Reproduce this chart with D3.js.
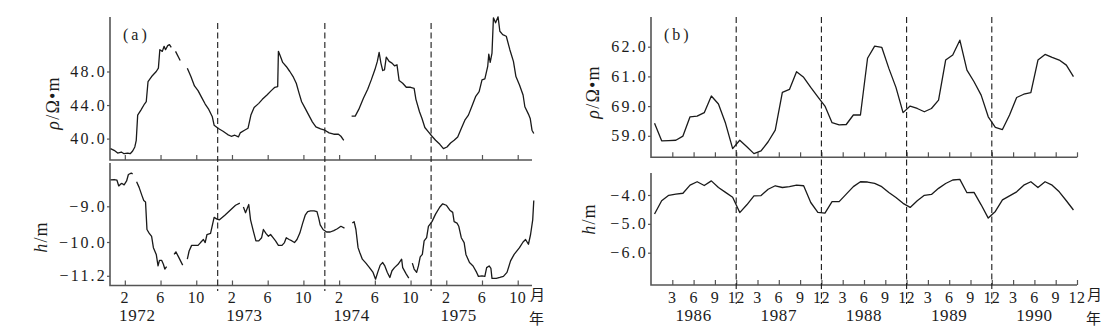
<!DOCTYPE html>
<html><head><meta charset="utf-8">
<script src="https://cdn.jsdelivr.net/npm/d3@7"></script>
<style>
body{margin:0;background:#fff;}
svg text{font-family:"Liberation Serif","Times New Roman",serif;fill:#1c1c1c;}
.cjk{font-family:"Noto Sans CJK SC",sans-serif;}
</style></head><body>
<svg id="chart" width="1119" height="336"></svg>
<script>
// ---------- panel (a): 1972-1975, time in months from Jan 1972 ----------
const yearsA = [1972, 1973, 1974, 1975];
const monthTicksA = [2, 6, 10];
const yearBreaksA = [12.4, 24.4, 36.3];

// resistivity rho (Ω·m), broken segments [month, value]
const rhoA = [
  [[0.4,38.8],[0.8,38.6],[1.2,38.28],[1.6,38.4],[1.92,38.2],[2.32,38.28],[2.6,38.2],[2.88,38.52],[3.12,39.0],[3.28,39.8],[3.44,42.8],[3.8,43.4],[4.2,44.12],[4.4,44.4],[4.6,46.8],[5.0,47.4],[5.52,48.0],[5.76,48.4],[5.92,50.6],[6.2,50.4],[6.4,51.0],[6.56,50.6],[6.8,51.08],[7.0,51.2],[7.2,50.88]],
  [[7.68,50.4],[8.2,49.32]],
  [[9.0,48.4],[9.4,47.4],[9.8,46.28],[10.2,45.72],[10.6,44.92],[11.0,44.12],[11.4,43.48],[11.8,42.6],[12.0,41.6],[12.48,41.2],[13.0,40.88],[13.52,40.48],[13.92,40.28],[14.32,40.4],[14.72,40.2],[14.92,40.68],[15.4,41.0],[15.8,41.24],[16.12,42.8],[16.48,43.72],[17.0,44.2],[17.4,44.68],[17.92,45.2],[18.4,45.72],[18.8,46.12],[19.12,46.2],[19.2,50.4],[19.4,49.88],[19.68,49.08],[20.08,48.6],[20.48,48.0],[20.88,47.32],[21.2,46.6],[21.52,45.4],[21.8,44.4],[22.2,43.6],[22.6,42.8],[23.0,42.0],[23.4,41.4],[23.92,41.16],[24.4,41.0],[24.88,40.68],[25.4,40.52],[25.92,40.52],[26.2,40.28],[26.52,39.8]],
  [[27.4,42.68],[27.8,42.68],[28.2,43.48],[28.72,44.8],[29.2,45.88],[29.6,47.0],[30.0,48.2],[30.28,49.2],[30.48,50.28],[30.68,49.0],[30.88,48.12],[31.08,48.2],[31.28,49.72],[31.6,49.2],[31.92,49.0],[32.2,48.68],[32.48,48.8],[32.72,46.92],[33.12,46.6],[33.52,46.12],[34.0,46.12],[34.4,46.0],[34.6,44.68],[35.0,43.2],[35.28,42.4],[35.6,41.32],[36.0,40.8],[36.4,40.28],[36.8,39.8],[37.28,39.32],[37.68,38.8],[38.08,39.0],[38.48,39.48],[38.88,39.8],[39.28,40.2],[39.68,41.2],[40.08,42.2],[40.48,42.8],[40.88,43.88],[41.28,45.0],[41.68,45.6],[42.0,47.0],[42.32,47.12],[42.64,48.6],[42.76,50.08],[42.92,49.08],[43.12,50.2],[43.28,54.4],[43.52,53.8],[43.8,54.52],[44.0,52.8],[44.32,52.4],[44.72,52.2],[45.12,50.6],[45.52,49.2],[45.8,47.4],[46.2,46.4],[46.6,45.2],[46.8,43.8],[47.2,42.92],[47.4,42.4],[47.6,41.0],[47.8,40.6]]
];
const rhoTicksA = [40, 44, 48];
const rhoLabelsA = ["40.0", "44.0", "48.0"];

// water level h (m), broken segments [month, value]
const hA = [
  [[0.4,-8.26],[0.8,-8.25],[1.12,-8.27],[1.32,-8.43],[1.52,-8.38],[1.68,-8.36],[1.92,-8.40],[2.2,-8.29],[2.4,-8.11],[2.72,-8.07],[2.88,-8.09]],
  [[3.32,-8.31],[3.6,-8.47],[3.92,-8.70],[4.12,-8.84],[4.32,-8.88],[4.48,-9.65],[4.72,-9.75],[5.0,-9.84],[5.2,-10.20],[5.52,-10.44],[5.72,-10.85],[5.88,-10.65],[6.12,-10.65],[6.32,-10.79],[6.48,-10.96],[6.68,-10.87]],
  [[7.52,-10.44],[7.72,-10.35],[8.0,-10.52],[8.48,-10.82]],
  [[9.0,-10.61],[9.2,-10.32],[9.48,-10.12],[9.8,-10.12],[10.2,-10.12],[10.48,-10.02],[10.8,-9.93],[11.0,-10.02],[11.2,-9.79],[11.6,-9.76],[12.0,-9.31],[12.32,-9.36],[12.6,-9.38],[13.2,-9.25],[13.8,-9.11],[14.4,-8.97],[14.88,-8.91]],
  [[15.28,-9.02],[15.52,-9.18],[15.88,-8.95],[16.08,-9.38],[16.4,-9.70],[16.68,-9.97],[17.0,-9.97],[17.32,-9.88],[17.52,-9.65],[17.8,-9.76],[18.08,-9.84],[18.32,-9.79],[18.6,-9.88],[18.88,-9.97],[19.2,-10.12],[19.6,-10.12],[19.88,-10.02],[20.08,-9.88],[20.4,-9.93],[20.72,-9.97],[21.0,-10.02],[21.28,-9.93],[21.6,-9.75],[21.92,-9.47],[22.2,-9.25],[22.48,-9.15],[22.8,-9.13],[23.2,-9.13],[23.52,-9.15],[23.72,-9.34],[23.88,-9.52],[24.2,-9.65],[24.6,-9.72],[25.0,-9.72],[25.4,-9.68],[25.8,-9.63],[26.2,-9.56],[26.6,-9.61]],
  [[27.48,-9.47],[27.68,-9.43],[27.88,-9.65],[28.12,-10.20],[28.32,-10.38],[28.6,-10.61],[29.0,-10.75],[29.4,-10.91],[29.8,-11.08],[30.08,-11.32],[30.32,-11.08],[30.6,-10.82],[30.88,-10.73],[31.12,-10.85],[31.4,-11.08],[31.68,-11.26],[31.92,-11.02],[32.2,-10.91],[32.6,-10.79],[33.0,-10.61],[33.12,-10.91],[33.52,-11.14],[33.8,-11.28]],
  [[34.2,-10.75],[34.4,-10.96],[34.68,-11.08],[34.88,-10.85],[35.08,-10.53],[35.32,-10.44],[35.52,-9.97],[35.8,-9.88],[36.0,-9.56],[36.4,-9.43],[36.8,-9.22],[37.28,-9.02],[37.6,-8.93],[38.0,-8.97],[38.4,-9.11],[38.72,-9.17],[38.88,-9.43],[39.2,-9.47],[39.4,-9.56],[39.68,-9.88],[40.0,-10.02],[40.2,-10.44],[40.6,-10.73],[41.0,-10.85],[41.4,-11.08],[41.6,-11.22],[42.0,-11.2],[42.32,-11.22],[42.52,-10.91],[42.8,-10.85],[43.0,-10.94],[43.12,-11.29],[43.6,-11.29],[44.0,-11.26],[44.4,-11.22],[44.8,-11.08],[45.2,-10.67],[45.6,-10.44],[46.2,-10.20],[46.6,-10.0],[46.88,-9.93],[47.2,-10.08],[47.44,-9.79],[47.68,-9.38],[47.8,-8.84]]
];
const hTicksA = [-9.0, -10.0, -11.2];
const hLabelsA = ["\u22129.0", "\u221210.0", "\u221211.2"];

// ---------- panel (b): 1986-1990, monthly means ----------
const yearsB = [1986, 1987, 1988, 1989, 1990];
const monthTicksB = [3, 6, 9, 12];
const monthsB = d3.range(1, 61);
const rhoB = [59.42,58.83,58.84,58.85,58.99,59.64,59.66,59.78,60.34,60.07,59.42,58.57,
              58.85,58.63,58.40,58.49,58.80,59.19,60.46,60.56,61.16,60.97,60.63,60.31,
              60.00,59.44,59.37,59.38,59.70,59.70,61.61,62.02,61.98,61.27,60.63,59.78,
              60.00,59.92,59.81,59.92,60.20,61.55,61.72,62.22,61.21,60.82,60.37,59.64,
              59.28,59.21,59.70,60.29,60.40,60.45,61.55,61.74,61.64,61.55,61.38,60.99];
const hB = [-4.66,-4.20,-4.01,-3.97,-3.94,-3.66,-3.54,-3.67,-3.51,-3.74,-3.91,-4.08,
            -4.61,-4.34,-4.03,-4.02,-3.80,-3.68,-3.74,-3.71,-3.66,-3.68,-4.26,-4.60,
            -4.63,-4.23,-4.23,-3.97,-3.71,-3.54,-3.55,-3.60,-3.71,-3.91,-4.09,-4.29,
            -4.43,-4.20,-4.01,-3.98,-3.77,-3.60,-3.48,-3.46,-3.92,-3.91,-4.34,-4.80,
            -4.57,-4.17,-4.03,-3.89,-3.66,-3.54,-3.74,-3.54,-3.66,-3.89,-4.20,-4.52];
const rhoTicksB = [59, 60, 61, 62];
const rhoLabelsB = ["59.0", "69.0", "61.0", "62.0"];
const hTicksB = [-4, -5, -6];
const hLabelsB = ["\u22124.0", "\u22125.0", "\u22126.0"];

// ---------- drawing ----------
const svg = d3.select("#chart");
const AXIS = "#555", INK = "#1a1a1a";

function frame(x0, x1, y0, y1) {
  svg.append("path")
    .attr("d", `M${x0},${y0}V${y1}H${x1}`)
    .attr("fill", "none").attr("stroke", AXIS).attr("stroke-width", 1.6);
}

function yAxis(x0, y, ticks, labels) {
  const g = svg.append("g").attr("transform", `translate(${x0},0)`)
    .call(d3.axisLeft(y).tickValues(ticks).tickFormat((d, i) => labels[i])
      .tickSize(3).tickSizeOuter(0).tickPadding(2));
  g.select(".domain").remove();
  g.selectAll("line").attr("stroke", AXIS).attr("stroke-width", 1.2);
  g.selectAll("text").attr("font-size", 16).attr("letter-spacing", 2.2)
    .attr("font-family", "Liberation Serif").attr("fill", INK).attr("dx", 2);
}

function xTickMarks(x, yBase, ticks) {
  const g = svg.append("g").attr("transform", `translate(0,${yBase})`)
    .call(d3.axisBottom(x).tickValues(ticks).tickSize(-5).tickSizeOuter(0).tickFormat(""));
  g.select(".domain").remove();
  g.selectAll("line").attr("stroke", AXIS).attr("stroke-width", 1.2);
}

function curves(x, y, segs) {
  const line = d3.line().x(d => x(d[0])).y(d => y(d[1]));
  svg.append("g").selectAll("path").data(segs).join("path")
    .attr("d", line).attr("fill", "none")
    .attr("stroke", INK).attr("stroke-width", 1.3).attr("stroke-linejoin", "round");
}

function dashes(x, breaks, y0, y1) {
  svg.append("g").selectAll("line").data(breaks).join("line")
    .attr("x1", d => x(d)).attr("x2", d => x(d))
    .attr("y1", y0).attr("y2", y1)
    .attr("stroke", INK).attr("stroke-width", 1.1).attr("stroke-dasharray", "6,3.5");
}

function vTitle(cx, cy, parts) {
  const t = svg.append("text").attr("transform", `translate(${cx},${cy}) rotate(-90)`)
    .attr("text-anchor", "middle").attr("font-size", 18).attr("letter-spacing", 1.2);
  parts.forEach(p => t.append("tspan").text(p[0]).attr("font-style", p[1] ? "italic" : "normal"));
}

function xLabels(x, years, months, yearOffset, unitX) {
  const g = svg.append("g");
  const monthItems = [];
  years.forEach((yr, i) => months.forEach(m => monthItems.push({t: 12 * i + m, m})));
  g.selectAll("text.m").data(monthItems).join("text").attr("class", "m")
    .attr("x", d => x(d.t)).attr("y", 303).attr("text-anchor", "middle")
    .attr("font-size", 16).attr("letter-spacing", 0.4).text(d => d.m);
  g.selectAll("text.y").data(years).join("text").attr("class", "y")
    .attr("x", (d, i) => x(12 * i + yearOffset)).attr("y", 321).attr("text-anchor", "middle")
    .attr("font-size", 17).attr("letter-spacing", 0.6).text(d => d);
  // unit marks: month (月) beside the last tick label, year (年) beneath it
  g.append("text").attr("class", "cjk").attr("x", unitX).attr("y", 300).attr("font-size", 15).text("月");
  g.append("text").attr("class", "cjk").attr("x", unitX - 1).attr("y", 324).attr("font-size", 15).text("年");
}

// ---- panel (a) ----
const xA = d3.scaleLinear().domain([0.34, 47.6]).range([110, 532]);
const yRhoA = d3.scaleLinear().domain([40, 48]).range([138.6, 71.5]);
const yHA = d3.scaleLinear().domain([-9, -10, -11.2]).range([206.3, 242, 275.8]);
const tickTimesA = yearsA.flatMap((yr, i) => monthTicksA.map(m => 12 * i + m));

frame(110, 532, 17, 160);
frame(110, 532, 163, 285.5);
xTickMarks(xA, 160, tickTimesA);
xTickMarks(xA, 285.5, tickTimesA);
yAxis(110, yRhoA, rhoTicksA, rhoLabelsA);
yAxis(110, yHA, hTicksA, hLabelsA);
dashes(xA, yearBreaksA, 23, 291);
curves(xA, yRhoA, rhoA);
curves(xA, yHA, hA);
xLabels(xA, yearsA, monthTicksA, 3.4, 530);
svg.append("text").attr("x", 123).attr("y", 40).attr("font-size", 16).attr("letter-spacing", 3).text("(a)");
vTitle(59, 103, [["ρ", true], ["/Ω•m", false]]);
vTitle(47, 237, [["h", true], ["/m", false]]);

// ---- panel (b) ----
const xB = d3.scaleLinear().domain([0, 60]).range([651, 1077]);
const yRhoB = d3.scaleLinear().domain([59, 62]).range([135.8, 46.7]);
const yHB = d3.scaleLinear().domain([-4, -6]).range([195, 252.7]);
const tickTimesB = yearsB.flatMap((yr, i) => monthTicksB.map(m => 12 * i + m));
const seriesRhoB = [monthsB.map((m, i) => [m - 0.5, rhoB[i]])];
const seriesHB = [monthsB.map((m, i) => [m - 0.5, hB[i]])];

frame(651, 1077, 17, 157.3);
frame(651, 1077, 173, 285);
xTickMarks(xB, 157.3, tickTimesB);
xTickMarks(xB, 285, tickTimesB);
yAxis(651, yRhoB, rhoTicksB, rhoLabelsB);
yAxis(651, yHB, hTicksB, hLabelsB);
dashes(xB, [12, 24, 36, 48], 17, 304);
curves(xB, yRhoB, seriesRhoB);
curves(xB, yHB, seriesHB);
xLabels(xB, yearsB, monthTicksB, 6, 1087);
svg.append("text").attr("x", 664).attr("y", 40).attr("font-size", 16).attr("letter-spacing", 3).text("(b)");
vTitle(599, 92, [["ρ", true], ["/Ω•m", false]]);
vTitle(595, 219, [["h", true], ["/m", false]]);
</script>
</body></html>
